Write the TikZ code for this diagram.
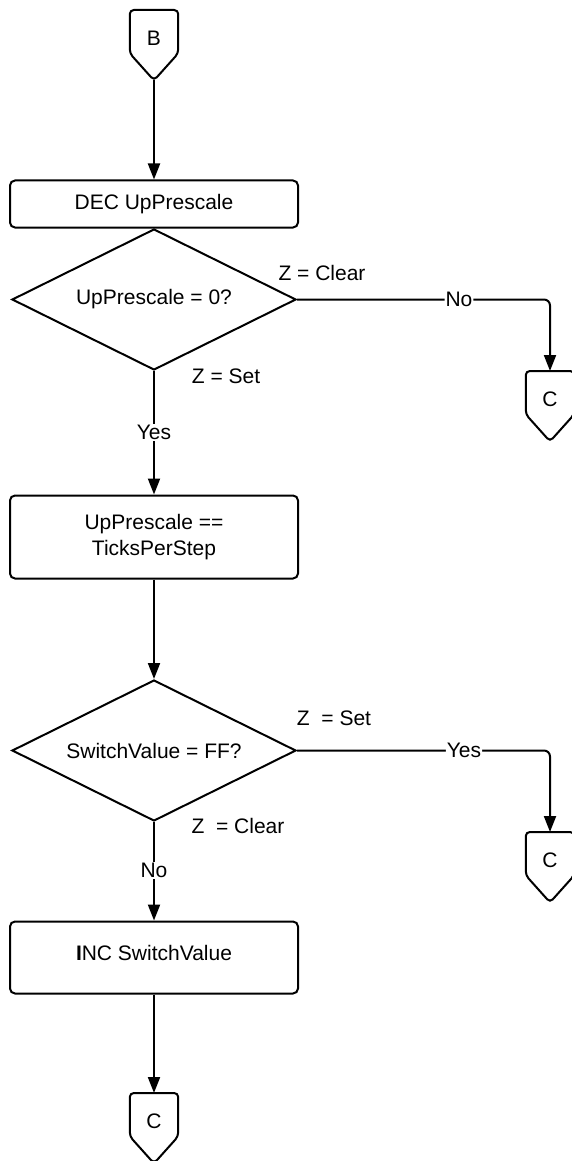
\documentclass[tikz,border=0pt]{standalone}
\usepackage{fontspec}
\setmainfont{Liberation Sans}
\usetikzlibrary{shapes.geometric,arrows.meta}
\tikzset{
  base/.style={font=\fontsize{21}{26}\selectfont},
  procbox/.style={base,draw,line width=2pt,rounded corners=5pt,minimum width=288pt,inner sep=0pt,align=center},
  decision/.style={base,draw,line width=2pt,diamond,aspect=2,minimum width=284pt,minimum height=141pt,inner sep=0pt},
  offconn/.style={base,minimum width=48pt,minimum height=56pt,inner sep=0pt,anchor=north},
  flow/.style={line width=2pt,-{Triangle[length=16pt,width=12pt]}},
  lbl/.style={base,fill=white,inner sep=1pt},
  note/.style={base,inner sep=0pt},
}
\newcommand{\connshape}[1]{%
  \draw[line width=2pt,rounded corners=4pt] ([yshift=-14pt]#1.south)
    -- ([yshift=13pt]#1.south west) -- (#1.north west) -- (#1.north east)
    -- ([yshift=13pt]#1.south east) -- cycle;}
\begin{document}
\begin{tikzpicture}[x=1pt,y=-1pt]
\useasboundingbox (0,0) rectangle (571,1161);
\node[offconn] (B) at (154,10) {B};
\connshape{B}
\node[procbox,minimum height=47pt] (box1) at (154,204) {DEC UpPrescale};
\node[decision] (d1) at (154,299.5) {UpPrescale = 0?};
\node[offconn] (C1) at (550,371) {C};
\connshape{C1}
\node[procbox,minimum height=83pt] (box2) at (154,537) {UpPrescale ==\\TicksPerStep};
\node[decision] (d2) at (154,750.5) {SwitchValue = FF?};
\node[offconn] (C2) at (550,832) {C};
\connshape{C2}
\node[procbox,minimum height=72pt] (box3) at (154,957.5) {};
\node[base,inner sep=0pt] (box3t) at (154,953) {\textbf{I}NC SwitchValue};
\node[offconn] (C3) at (154,1093) {C};
\connshape{C3}

\node[note] (zc1) at (322,273) {Z = Clear};
\node[note] (zs1) at (226,376) {Z = Set};
\node[note] (zs2) at (334,718) {Z\ \ = Set};
\node[note] (zc2) at (238,826) {Z\ \ = Clear};

\draw[flow] ([yshift=-14pt]B.south) -- (box1.north);
\draw[flow,rounded corners=6pt] (d1.east) -| (C1.north) node[lbl,pos=0.32] {No};
\draw[flow] (d1.south) -- (box2.north) node[lbl,midway] {Yes};
\draw[flow] (box2.south) -- (d2.north);
\draw[flow,rounded corners=6pt] (d2.east) -| (C2.north) node[lbl,pos=0.33] {Yes};
\draw[flow] (d2.south) -- (box3.north) node[lbl,pos=0.49] {No};
\draw[flow] (box3.south) -- (C3.north);
\end{tikzpicture}
\end{document}
